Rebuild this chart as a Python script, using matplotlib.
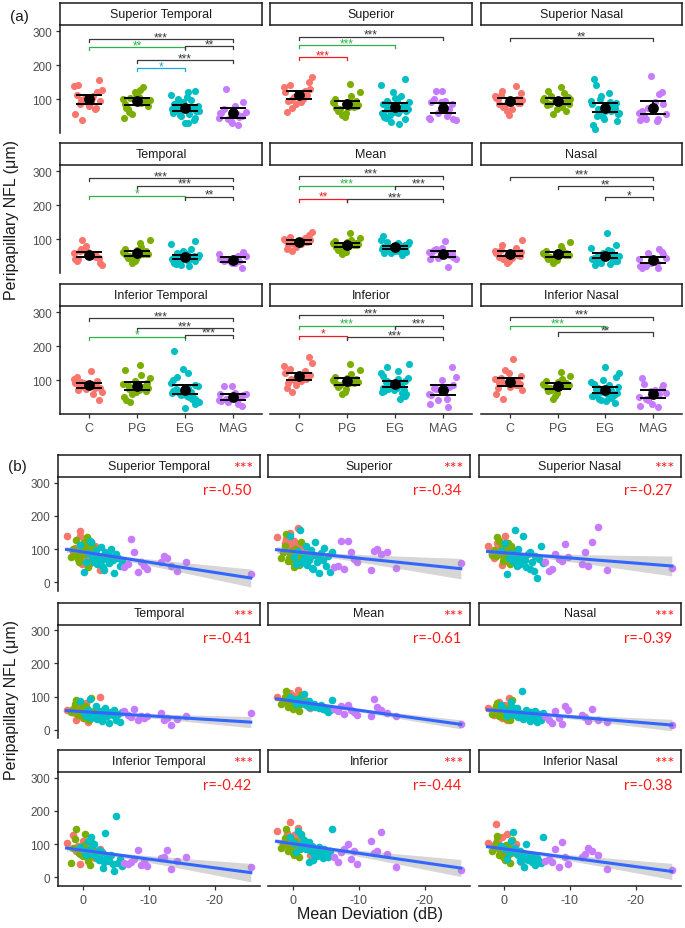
import matplotlib
matplotlib.use("Agg")
import matplotlib.pyplot as plt
import numpy as np

plt.rcParams['font.family'] = ['Liberation Sans', 'DejaVu Sans']

nan = np.nan

#################
#### DONNEES ####
#################
groups = ["C", "PG", "EG", "MAG"]
group_colors = ["#F8766D", "#7CAE00", "#00BFC4", "#C77CFF"]
sectors = ["Superior Temporal", "Superior", "Superior Nasal",
           "Temporal", "Mean", "Nasal",
           "Inferior Temporal", "Inferior", "Inferior Nasal"]

# mean deviation (dB) par patient
md_c = [2.5, 1.2, 0.8, 0.5, 0.3, 0.0, -0.2, -0.5, -0.8, 1.5, 0.9, -1.2, -0.4, 0.2, -1.8, -2.6, 1.0, -0.6, 0.4, -1.0]
md_pg = [1.5, 1.0, 0.6, 0.3, 0.0, -0.3, -0.6, -0.9, -1.2, -1.5, 0.8, 0.2, -0.1, -0.7, 1.2, -1.0, 0.5, -0.4, 1.8, -1.8]
md_eg = [0.5, -0.2, -0.8, -1.0, -1.3, -1.6, -1.9, -2.1, -2.4, -2.7, -2.9, -3.2, -3.4, -3.7, -3.9, -4.2, -4.5, -4.7,
         -5.0, -5.3, -5.6, -6.0, -1.2, -2.0, -3.0, -4.0, -0.5, -2.5]
md_mag = [-6.2, -6.8, -7.3, -7.8, -8.3, -8.8, -9.2, -9.8, -11.8, -12.3, -12.8, -13.3, -14.3, -15.6, -25.5]

# NFL peripapillaire (um) par secteur
st_c = [138, 104, 96, 155, 88, 112, 70, 100, 128, 92, 85, 120, 98, 55, 108, 38, 94, 80, 140, 75]
st_pg = [100, 128, 62, 94, 115, 85, 135, 55, 98, 106, 70, 92, 120, 45, 88, 103, 80, 110, 75, 96]
st_eg = [112, 30, 88, 125, 76, 62, 96, 54, 80, 105, 68, 38, 92, 72, 57, 100, 66, 28, 85, 74, 50, 64, 120, 78, 45, 82, 60, 70]
st_mag = [45, 55, 130, 90, 30, 60, 48, 40, 62, 80, 72, 50, 35, 60, 25]

s_c = [135, 118, 98, 150, 110, 62, 125, 105, 165, 90, 140, 112, 85, 120, 100, 75, 130, 108, 95, 115]
s_pg = [90, 144, 72, 80, 60, 100, 85, 52, 120, 76, 65, 95, 47, 88, 110, 70, 82, 92, 74, 78]
s_eg = [140, 75, 94, 159, 63, 84, 110, 52, 70, 98, 44, 82, 120, 60, 27, 87, 66, 104, 48, 78, 32, 90, 58, 72, 40, 80, 55, 68]
s_mag = [45, 50, 125, 40, 125, 90, 70, 60, 38, 95, 100, 85, 90, 42, 58]

sn_c = [108, 93, 125, 87, 52, 101, 138, 82, 97, 72, 112, 89, 65, 104, 95, 78, 118, 91, 85, 99]
sn_pg = [98, 135, 84, 106, 72, 92, 118, 56, 100, 88, 125, 64, 94, 103, 78, 110, 86, 96, 82, 90]
sn_eg = [95, 118, 72, 88, 64, 159, 80, 100, 55, 76, 140, 68, 46, 85, 92, 62, 34, 78, 12, 70, 108, 58, 82, 50, 74, 40, 25, 66]
sn_mag = [60, 35, 40, 85, 70, 65, 115, 75, 55, 90, 50, 121, 168, 38, 42]

t_c = [58, 50, 72, 44, 61, 36, 55, 68, 24, 52, 64, 46, 80, 40, 56, 98, 30, 54, 42, 48]
t_pg = [62, 88, 50, 57, 42, 72, 56, 30, 97, 54, 45, 65, 36, 60, 78, 48, 55, 68, 52, 58]
t_eg = [85, 50, 60, 94, 45, 38, 70, 32, 47, 56, 27, 51, 64, 40, 21, 52, 43, 58, 30, 48, 24, 54, 36, 44, 34, 49, 42, 46]
t_mag = [55, 45, 38, 61, 30, 40, 35, 42, 50, 28, 36, 14, 32, 40, 50]

m_c = [100, 94, 88, 112, 91, 72, 102, 86, 120, 84, 106, 92, 78, 96, 90, 64, 98, 93, 82, 95]
m_pg = [87, 118, 74, 83, 62, 94, 85, 56, 104, 80, 68, 89, 72, 86, 98, 76, 84, 91, 78, 82]
m_eg = [98, 88, 92, 83, 80, 108, 79, 76, 85, 73, 70, 77, 68, 72, 64, 75, 62, 66, 58, 54, 60, 90, 81, 74, 71, 67, 78, 69]
m_mag = [62, 55, 70, 48, 75, 60, 52, 45, 42, 93, 68, 58, 50, 40, 18]

n_c = [64, 55, 82, 50, 35, 60, 74, 46, 97, 44, 68, 54, 30, 58, 52, 40, 62, 57, 48, 56]
n_pg = [58, 80, 46, 53, 38, 66, 55, 30, 91, 50, 42, 60, 34, 56, 72, 44, 54, 62, 48, 52]
n_eg = [75, 60, 54, 82, 49, 44, 64, 38, 51, 117, 32, 47, 58, 42, 27, 53, 36, 56, 24, 46, 30, 50, 68, 45, 34, 52, 40, 48]
n_mag = [40, 28, 20, 55, 35, 16, 72, 60, 45, 38, 25, 62, 30, 22, 14]

it_c = [102, 88, 95, 40, 84, 110, 76, 92, 66, 127, 80, 98, 74, 90, 58, 86, 78, 82, 70, 85]
it_pg = [88, 144, 74, 92, 64, 130, 80, 58, 105, 72, 85, 68, 98, 50, 115, 36, 76, 82, 42, 78]
it_eg = [92, 78, 110, 86, 70, 100, 64, 58, 82, 54, 75, 47, 132, 62, 50, 66, 40, 18, 186, 44, 56, 35, 120, 72, 28, 60, 68, 52]
it_mag = [42, 40, 45, 55, 83, 38, 48, 35, 58, 62, 81, 24, 48, 60, 30]

i_c = [140, 112, 104, 167, 110, 78, 126, 100, 150, 96, 132, 114, 86, 120, 106, 66, 116, 108, 92, 102]
i_pg = [100, 147, 86, 94, 74, 110, 96, 60, 130, 90, 80, 102, 66, 98, 118, 84, 95, 106, 88, 92]
i_eg = [120, 102, 138, 96, 88, 112, 84, 90, 106, 78, 94, 70, 82, 65, 92, 74, 58, 86, 68, 62, 80, 147, 128, 98, 52, 72, 76, 45]
i_mag = [60, 45, 75, 85, 100, 55, 80, 40, 110, 72, 78, 137, 70, 30, 20]

in_c = [102, 161, 94, 88, 120, 76, 86, 130, 70, 98, 106, 84, 92, 60, 100, 45, 112, 80, 90, 96]
in_pg = [88, 123, 76, 83, 62, 98, 85, 44, 112, 80, 68, 90, 52, 86, 104, 72, 84, 94, 78, 82]
in_eg = [94, 84, 76, 110, 137, 88, 72, 66, 80, 60, 74, 56, 100, 52, 68, 45, 62, 38, 58, 50, 42, 122, 78, 70, 32, 64, 54, 48]
in_mag = [50, 55, 45, 85, 30, 105, 60, 40, 62, 70, 88, 78, 67, 25, 20]

# comparaisons (groupe1, groupe2, hauteur, etoiles, couleur)
brackets_st = [(1, 4, 276, "***", "k"), (1, 3, 253, "**", "g"), (3, 4, 255, "**", "k"),
               (2, 4, 215, "***", "k"), (2, 3, 191, "*", "b")]
brackets_s = [(1, 4, 283, "***", "k"), (1, 3, 259, "***", "g"), (1, 2, 224, "***", "r")]
brackets_sn = [(1, 4, 279, "**", "k")]
brackets_t = [(1, 4, 279, "***", "k"), (2, 4, 257, "***", "k"), (1, 3, 227, "*", "g"), (3, 4, 225, "**", "k")]
brackets_m = [(1, 4, 286, "***", "k"), (1, 3, 257, "***", "g"), (3, 4, 257, "***", "k"),
              (1, 2, 219, "**", "r"), (2, 4, 217, "***", "k")]
brackets_n = [(1, 4, 283, "***", "k"), (2, 4, 256, "**", "k"), (3, 4, 224, "*", "k")]
brackets_it = [(1, 4, 282, "***", "k"), (2, 4, 253, "***", "k"), (1, 3, 228, "*", "g"), (3, 4, 233, "***", "k")]
brackets_i = [(1, 4, 291, "***", "k"), (1, 3, 260, "***", "g"), (3, 4, 260, "***", "k"),
              (1, 2, 230, "*", "r"), (2, 4, 226, "***", "k")]
brackets_in = [(1, 4, 287, "***", "k"), (1, 3, 260, "***", "g"), (2, 4, 240, "**", "k")]

r_labels = ["r=-0.50", "r=-0.34", "r=-0.27", "r=-0.41", "r=-0.61", "r=-0.39", "r=-0.42", "r=-0.44", "r=-0.38"]

bracket_colors = {"k": "#3A3A3A", "g": "#2DB34A", "b": "#1DA8E0", "r": "#EE1C25"}

nfl = [[st_c, st_pg, st_eg, st_mag], [s_c, s_pg, s_eg, s_mag], [sn_c, sn_pg, sn_eg, sn_mag],
       [t_c, t_pg, t_eg, t_mag], [m_c, m_pg, m_eg, m_mag], [n_c, n_pg, n_eg, n_mag],
       [it_c, it_pg, it_eg, it_mag], [i_c, i_pg, i_eg, i_mag], [in_c, in_pg, in_eg, in_mag]]
mds = [md_c, md_pg, md_eg, md_mag]
brackets = [brackets_st, brackets_s, brackets_sn, brackets_t, brackets_m, brackets_n,
            brackets_it, brackets_i, brackets_in]

##############
#### CODE ####
##############
W, H = 685, 929
fig = plt.figure(figsize=(W / 100, H / 100), dpi=100)
txt_col = "#1A1A1A"
tick_col = "#4D4D4D"


def px_axes(x0, y0, x1, y1):
    return fig.add_axes([x0 / W, 1 - y1 / H, (x1 - x0) / W, (y1 - y0) / H])


def strip(x0, y0, x1, y1, title, stars=False):
    ax = px_axes(x0, y0, x1, y1)
    ax.set_xticks([])
    ax.set_yticks([])
    for s in ax.spines.values():
        s.set_linewidth(1.1)
        s.set_color(txt_col)
    ax.text(0.5, 0.5, title, ha="center", va="center", fontsize=9, color=txt_col, transform=ax.transAxes)
    if stars:
        ax.text(0.965, 0.40, "***", ha="right", va="center", fontsize=11.5, color="#FF1A1A",
                transform=ax.transAxes, family=["Lato", "DejaVu Sans"])


def style_axes(ax, left, bottom):
    for side in ["top", "right"]:
        ax.spines[side].set_visible(False)
    ax.spines["left"].set_visible(left)
    ax.spines["bottom"].set_visible(bottom)
    for side in ["left", "bottom"]:
        ax.spines[side].set_linewidth(1.1)
        ax.spines[side].set_color(txt_col)
    ax.tick_params(axis="y", left=left, labelleft=left, length=3, width=0.9, color="#333333",
                   labelcolor=tick_col, labelsize=8.5, pad=2.5)
    ax.tick_params(axis="x", bottom=bottom, labelbottom=bottom, length=3, width=0.9, color="#333333",
                   labelcolor=tick_col, labelsize=9, pad=2.5)
    ax.patch.set_alpha(0)


# ---------- partie (a) ----------
cols_a = [(60, 262), (270, 472), (481, 682)]
tops_a = [4, 144, 285]
for k, name in enumerate(sectors):
    r, c = divmod(k, 3)
    x0, x1 = cols_a[c]
    t = tops_a[r]
    strip(x0, t, x1, t + 22, name)
    ax = px_axes(x0, t + 22, x1, t + 130)
    for g in range(4):
        vals = np.array(nfl[k][g], dtype=float)
        vals = vals[~np.isnan(vals)]
        n = len(vals)
        jit = ((np.arange(n) * 0.6180339887) % 1.0 - 0.5) * 0.6
        ax.scatter(g + 1 + jit, vals, s=26, color=group_colors[g], linewidths=0, zorder=2)
        mu = vals.mean()
        ci = 2.0 * vals.std(ddof=1) / np.sqrt(n)
        ax.errorbar(g + 1, mu, yerr=ci, color="black", capsize=9.5, elinewidth=1.2, capthick=1.4, zorder=3)
        ax.scatter(g + 1, mu, s=45, color="black", zorder=4)
    for g1, g2, y, lab, col in brackets[k]:
        cc = bracket_colors[col]
        ax.plot([g1, g1, g2, g2], [y - 9, y, y, y - 9], color=cc, lw=0.9, zorder=5)
        ax.text((g1 + g2) / 2, y - 3, lab, ha="center", va="baseline", fontsize=8.5, color=cc, zorder=5)
    ax.set_xlim(0.4, 4.6)
    ax.set_ylim(0, 318)
    ax.set_yticks([100, 200, 300])
    ax.set_xticks([1, 2, 3, 4])
    ax.set_xticklabels(groups)
    style_axes(ax, c == 0, r == 2)

# ---------- partie (b) ----------
cols_b = [(58, 260), (268, 470), (479, 681)]
tops_b = [456, 603.5, 751]
for k, name in enumerate(sectors):
    r, c = divmod(k, 3)
    x0, x1 = cols_b[c]
    t = tops_b[r]
    strip(x0, t, x1, t + 22, name, stars=True)
    ax = px_axes(x0, t + 22, x1, t + 136)
    xs_all, ys_all = [], []
    for g in range(4):
        xv = np.array(mds[g], dtype=float)
        yv = np.array(nfl[k][g], dtype=float)
        ok = ~np.isnan(yv)
        ax.scatter(xv[ok], yv[ok], s=30, color=group_colors[g], linewidths=0, zorder=2)
        xs_all.append(xv[ok])
        ys_all.append(yv[ok])
    x = np.concatenate(xs_all)
    y = np.concatenate(ys_all)
    b1, b0 = np.polyfit(x, y, 1)
    xs = np.linspace(x.min(), x.max(), 100)
    fit = b0 + b1 * xs
    nn = len(x)
    s_res = np.sqrt(np.sum((y - (b0 + b1 * x)) ** 2) / (nn - 2))
    se = s_res * np.sqrt(1 / nn + (xs - x.mean()) ** 2 / np.sum((x - x.mean()) ** 2))
    ax.fill_between(xs, fit - 1.98 * se, fit + 1.98 * se, color="#999999", alpha=0.4, lw=0, zorder=3)
    ax.plot(xs, fit, color="#3366FF", lw=2.2, zorder=4)
    ax.text(0.955, 0.885, r_labels[k], ha="right", va="center", fontsize=10.5, color="#FF1A1A",
            transform=ax.transAxes, family=["Lato", "DejaVu Sans"])
    ax.set_xlim(3.8, -26.9)
    ax.set_ylim(-27, 318)
    ax.set_yticks([0, 100, 200, 300])
    ax.set_xticks([0, -10, -20])
    ax.set_xticklabels(["0", "-10", "-20"])
    style_axes(ax, c == 0, r == 2)

# titres
fig.text(10 / W, 1 - 17 / H, "(a)", fontsize=11, color=txt_col, va="center")
fig.text(8 / W, 1 - 467 / H, "(b)", fontsize=11, color=txt_col, va="center")
fig.text(12 / W, 1 - 220 / H, "Peripapillary NFL (\u03bcm)", rotation=90, fontsize=11.5,
         color=txt_col, ha="center", va="center")
fig.text(12 / W, 1 - 700 / H, "Peripapillary NFL (\u03bcm)", rotation=90, fontsize=11.5,
         color=txt_col, ha="center", va="center")
fig.text(370 / W, 1 - 915 / H, "Mean Deviation (dB)", fontsize=11.5, color=txt_col, ha="center", va="center")

plt.savefig("out.png", dpi=100)
